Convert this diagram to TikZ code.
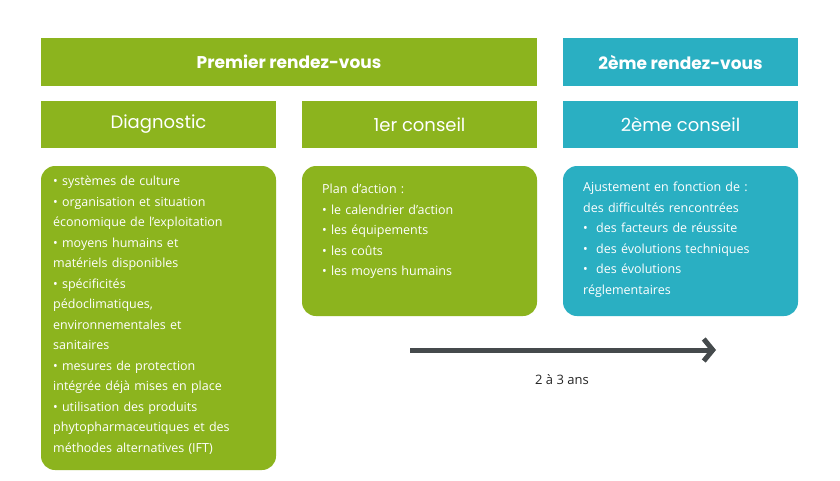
\documentclass[tikz,border=0pt]{standalone}
\usepackage{fontspec}
\setmainfont{Open Sans}
\newfontfamily\popfont{Poppins}
\definecolor{grn}{HTML}{8CB41E}
\definecolor{tel}{HTML}{2AAFC2}
\definecolor{arr}{HTML}{454A4C}
\usetikzlibrary{arrows.meta}
\tikzset{
 banner/.style={fill=#1,draw=none,minimum height=48pt,inner sep=0pt,text=white,font=\popfont\bfseries\fontsize{17}{20}\selectfont},
 head/.style={fill=#1,draw=none,minimum height=47pt,minimum width=235pt,inner sep=0pt,text=white,font=\popfont\fontsize{18}{20}\selectfont},
 body/.style={fill=#1,draw=none,rounded corners=14pt,minimum width=235pt,inner sep=0pt,text=white},
 btxt/.style={text=white,font=\fontsize{12.5}{20.5}\selectfont,align=left,anchor=north west,inner sep=0pt,text width=220pt}
}
\begin{document}
\begin{tikzpicture}[x=1pt,y=-1pt]
\useasboundingbox[fill=white] (0,0) rectangle (840,480);
\node[banner=grn,minimum width=496pt] (b1) at (289,62) {Premier rendez-vous};
\node[banner=tel,minimum width=235pt] (b2) at (680.5,62) {2ème rendez-vous};
\node[head=grn] (h1) at (158.5,124.5) {Diagnostic};
\node[head=grn] (h2) at (419.5,124.5) {1er conseil};
\node[head=tel] (h3) at (680.5,124.5) {2ème conseil};
\node[body=grn,minimum height=304pt] (c1) at (158.5,318) {};
\node[body=grn,minimum height=150pt] (c2) at (419.5,241) {};
\node[body=tel,minimum height=150pt] (c3) at (680.5,241) {};
\node[btxt] (t1) at (53,176) {•\ systèmes de culture\\•\ organisation et situation\\économique de l'exploitation\\•\ moyens humains et\\matériels disponibles\\•\ spécificités\\pédoclimatiques,\\environnementales et\\sanitaires\\•\ mesures de protection\\intégrée déjà mises en place\\•\ utilisation des produits\\phytopharmaceutiques et des\\méthodes alternatives (IFT)};
\node[btxt] (t2) at (322,184) {Plan d’action :\\•\ le calendrier d’action\\•\ les équipements\\•\ les coûts\\•\ les moyens humains};
\node[btxt] (t3) at (583,182) {Ajustement en fonction de :\\des difficultés rencontrées\\•\ \ des facteurs de réussite\\•\ \ des évolutions techniques\\•\ \ des évolutions\\réglementaires};
\coordinate (a1) at (410,350);
\coordinate (a2) at (716,350);
\draw[arr,line width=5pt,-{Straight Barb[length=9pt,width=22pt,line width=5pt]}] (a1) -- (a2);
\node[font=\fontsize{13}{16}\selectfont,text=black!85] (lab) at (562,380) {2 à 3 ans};
\end{tikzpicture}
\end{document}
